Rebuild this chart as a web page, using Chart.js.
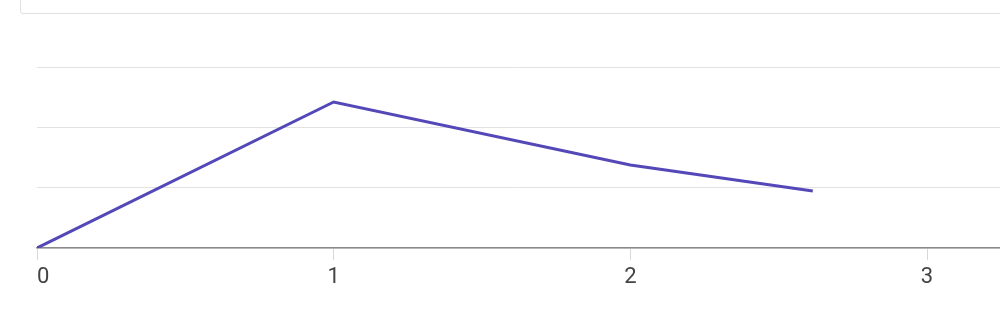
<!DOCTYPE html>
<html>
<head>
<meta charset="utf-8">
<script src="https://cdn.jsdelivr.net/npm/chart.js@4/dist/chart.umd.min.js"></script>
<style>
  html, body { margin: 0; padding: 0; background: #fff; }
  #wrap { position: relative; width: 1000px; height: 322px; overflow: hidden; }
  #topbox { position: absolute; left: 20px; top: -10px; width: 1000px; height: 24px;
            border: 1px solid #e0e0e0; border-radius: 3px; box-sizing: border-box; }
  canvas { position: absolute; left: 0; top: 0; }
</style>
</head>
<body>
<div id="wrap">
  <div id="topbox"></div>
  <canvas id="chart" width="1000" height="322"></canvas>
</div>
<script>
const xValues = [0, 1, 2, 2.615];
const yValues = [0, 2.42, 1.375, 0.945];
const xTicks = [0, 1, 2, 3];
const xMax = 3.246;

const ctx = document.getElementById('chart');
new Chart(ctx, {
    type: 'line',
    data: {
        datasets: [{
            data: xValues.map((x, i) => ({ x: x, y: yValues[i] })),
            borderColor: '#5448b8',
            borderWidth: 3,
            pointRadius: 0,
            tension: 0,
            fill: false
        }]
    },
    options: {
        responsive: false,
        animation: false,
        layout: { padding: { left: 37, right: 0, top: 67, bottom: 0 } },
        plugins: { legend: { display: false }, tooltip: { enabled: false } },
        scales: {
            x: {
                type: 'linear',
                min: 0,
                max: xMax,
                // extra empty tick at the right edge so 'inner' only shifts the "0"
                afterBuildTicks: (scale) => {
                    scale.ticks = xTicks.map(v => ({ value: v })).concat([{ value: xMax }]);
                },
                afterFit: (scale) => {
                    scale.height = 74;
                    scale.paddingLeft = 0;
                    scale.paddingRight = 0;
                },
                grid: {
                    drawOnChartArea: false,
                    tickLength: 12,
                    color: (c) => (c.tick && c.tick.value === xMax) ? 'rgba(0,0,0,0)' : '#d8d8d8'
                },
                border: { color: '#8a8a8a', width: 1.5 },
                ticks: {
                    align: 'inner',
                    padding: 4,
                    color: '#444',
                    font: { family: 'Roboto', size: 22 },
                    maxRotation: 0,
                    autoSkip: false,
                    callback: (v) => xTicks.includes(v) ? String(v) : ''
                }
            },
            y: {
                min: 0,
                max: 3,
                afterFit: (scale) => { scale.width = 0; },
                ticks: { display: false, stepSize: 1 },
                grid: { color: '#e2e2e2', drawTicks: false },
                border: { display: false }
            }
        }
    }
});
</script>
</body>
</html>
